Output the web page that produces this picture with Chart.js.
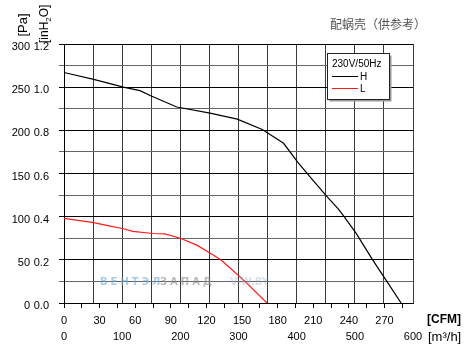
<!DOCTYPE html>
<html>
<head>
<meta charset="utf-8">
<script src="https://cdn.jsdelivr.net/npm/chart.js@4.4.1/dist/chart.umd.min.js"></script>
<style>
  html, body { margin: 0; padding: 0; background: #fff; }
  #wrap { width: 470px; height: 345px; position: relative; }
</style>
</head>
<body>
<div id="wrap"><canvas id="fanChart"></canvas></div>
<script>
// Curve H (230V/50Hz, high speed) - airflow in CFM, pressure in Pa
const hFlow  = [0, 25, 50, 64, 73, 95, 123, 146, 167, 185, 197, 208, 221, 231, 236, 246, 260, 271, 284];
const hPress = [267, 259, 250, 246, 240, 227, 220, 213, 201, 185, 163, 145, 124, 109, 100, 81, 50, 27, 0];

// Curve L (low speed)
const lFlow  = [0, 25, 39, 50, 58, 75, 85, 98, 112, 123, 132, 140, 154, 171];
const lPress = [98, 93, 89, 86, 83, 80.5, 80, 75, 67, 58, 50, 40.5, 23, 0];

// Axis tick labels
const cfmTicks = [0, 30, 60, 90, 120, 150, 180, 210, 240, 270];
const m3hTicks = [0, 100, 200, 300, 400, 500, 600];
const paTicks  = [0, 50, 100, 150, 200, 250, 300];
const inTicks  = ['0.0', '0.2', '0.4', '0.6', '0.8', '1.0', '1.2'];

const tickFont = { family: 'Liberation Sans', size: 11 };

function toPoints(xs, ys) {
    return xs.map((x, i) => ({ x: x, y: ys[i] }));
}

// Extra texts: title, axis units, legend box, watermark
const decorations = {
    id: 'decorations',
    afterDraw(chart) {
        const ctx = chart.ctx;
        ctx.save();

        // title
        ctx.fillStyle = '#555';
        ctx.font = '12px "Noto Sans CJK SC"';
        ctx.textAlign = 'left';
        ctx.textBaseline = 'middle';
        ctx.fillText('配蜗壳（供参考）', 330, 24);

        // watermark
        ctx.font = 'bold 10px "DejaVu Sans"';
        ctx.letterSpacing = '3px';
        ctx.fillStyle = 'rgba(110,170,215,0.6)';
        ctx.fillText('ВЕНТЭЛ', 100, 282);
        ctx.fillStyle = 'rgba(140,140,140,0.6)';
        ctx.fillText('ЗАПАД', 160, 282);
        ctx.fillStyle = 'rgba(150,170,200,0.35)';
        ctx.letterSpacing = '0px';
        ctx.fillText('V-W.BY', 230, 282);

        // y axis units (rotated)
        ctx.fillStyle = '#000';
        ctx.save();
        ctx.translate(23, 25);
        ctx.rotate(-Math.PI / 2);
        ctx.font = '13px "Liberation Sans"';
        ctx.textAlign = 'center';
        ctx.fillText('[Pa]', 0, 0);
        ctx.restore();

        ctx.save();
        ctx.translate(45, 43);
        ctx.rotate(-Math.PI / 2);
        ctx.textAlign = 'left';
        ctx.font = '12px "Liberation Sans"';
        let w = ctx.measureText('[inH').width;
        ctx.fillText('[inH', 0, 0);
        ctx.font = '8px "Liberation Sans"';
        ctx.fillText('2', w, 4);
        w += ctx.measureText('2').width;
        ctx.font = '12px "Liberation Sans"';
        ctx.fillText('O]', w, 0);
        ctx.restore();

        // x axis units
        ctx.textAlign = 'left';
        ctx.font = 'bold 12px "Liberation Sans"';
        ctx.fillText('[CFM]', 427, 320);
        ctx.font = '13px "Liberation Sans"';
        ctx.fillText('[m³/h]', 428, 337);

        // legend box
        const bx = 327.5, by = 53.5, bw = 62, bh = 46;
        ctx.fillStyle = '#999';
        ctx.fillRect(bx + 2, by + 2, bw, bh);
        ctx.fillStyle = '#fff';
        ctx.fillRect(bx, by, bw, bh);
        ctx.strokeStyle = '#222';
        ctx.lineWidth = 1;
        ctx.strokeRect(bx, by, bw, bh);

        ctx.fillStyle = '#000';
        ctx.font = '10px "Liberation Sans"';
        ctx.fillText('230V/50Hz', 332, 64);
        chart.data.datasets.forEach((ds, i) => {
            const ly = 76 + i * 12;
            ctx.strokeStyle = ds.borderColor;
            ctx.beginPath();
            ctx.moveTo(332, ly + 0.5);
            ctx.lineTo(358, ly + 0.5);
            ctx.stroke();
            ctx.fillStyle = '#000';
            ctx.fillText(ds.label, 360, ly + 1);
        });

        ctx.restore();
    }
};

const ctx = document.getElementById('fanChart').getContext('2d');
new Chart(ctx, {
    type: 'line',
    data: {
        datasets: [{
            label: 'H',
            data: toPoints(hFlow, hPress),
            borderColor: '#000000',
            borderWidth: 1.2,
            pointRadius: 0,
            tension: 0,
            xAxisID: 'cfm',
            yAxisID: 'pa'
        }, {
            label: 'L',
            data: toPoints(lFlow, lPress),
            borderColor: '#ff1a1a',
            borderWidth: 1.2,
            pointRadius: 0,
            tension: 0,
            xAxisID: 'cfm',
            yAxisID: 'pa'
        }]
    },
    options: {
        responsive: true,
        maintainAspectRatio: false,
        animation: false,
        layout: {
            padding: { top: 44, right: 57, bottom: 3, left: 0 }
        },
        plugins: {
            legend: { display: false },
            tooltip: { enabled: false }
        },
        scales: {
            cfm: {
                type: 'linear',
                position: 'bottom',
                weight: 0,
                min: 0,
                max: 294,
                ticks: {
                    stepSize: 15,
                    includeBounds: false,
                    autoSkip: false,
                    maxRotation: 0,
                    padding: 6,
                    color: '#000',
                    font: tickFont,
                    callback: (v) => cfmTicks.includes(v) ? String(v) : ''
                },
                grid: {
                    drawOnChartArea: false,
                    drawTicks: true,
                    tickLength: 5,
                    color: '#000'
                },
                border: { display: true, color: '#000', width: 1 },
                afterFit: (scale) => { scale.height = 22; }
            },
            m3h: {
                type: 'linear',
                position: 'bottom',
                weight: 1,
                min: 0,
                max: 600,
                ticks: {
                    stepSize: 50,
                    autoSkip: false,
                    maxRotation: 0,
                    padding: 5,
                    color: '#000',
                    font: tickFont,
                    callback: (v) => m3hTicks.includes(v) ? String(v) : ''
                },
                grid: {
                    drawOnChartArea: true,
                    drawTicks: false,
                    color: '#3a3a3a',
                    lineWidth: 1
                },
                border: { display: false },
                afterFit: (scale) => { scale.height = 17; }
            },
            pa: {
                type: 'linear',
                position: 'left',
                weight: 1,
                min: 0,
                max: 300,
                ticks: {
                    stepSize: 25,
                    autoSkip: false,
                    padding: 3,
                    labelOffset: 3,
                    color: '#000',
                    font: tickFont,
                    callback: (v) => paTicks.includes(v) ? String(v) : ''
                },
                grid: { display: false, drawTicks: false },
                border: { display: false },
                afterFit: (scale) => { scale.width = 33; }
            },
            inh: {
                type: 'linear',
                position: 'left',
                weight: 0,
                min: 0,
                max: 1.2,
                ticks: {
                    stepSize: 0.1,
                    autoSkip: false,
                    padding: 10,
                    labelOffset: 3,
                    color: '#000',
                    font: tickFont,
                    callback: (v) => {
                        const s = (Math.round(v * 10) / 10).toFixed(1);
                        return inTicks.includes(s) ? s : '';
                    }
                },
                grid: {
                    drawOnChartArea: true,
                    drawTicks: true,
                    tickLength: 5,
                    color: (c) => (c.tick && Math.round(c.tick.value * 10) % 2 === 0) ? '#000' : '#666',
                    lineWidth: 1
                },
                border: { display: true, color: '#000', width: 1 },
                afterFit: (scale) => { scale.width = 31; }
            }
        }
    },
    plugins: [decorations]
});
</script>
</body>
</html>
